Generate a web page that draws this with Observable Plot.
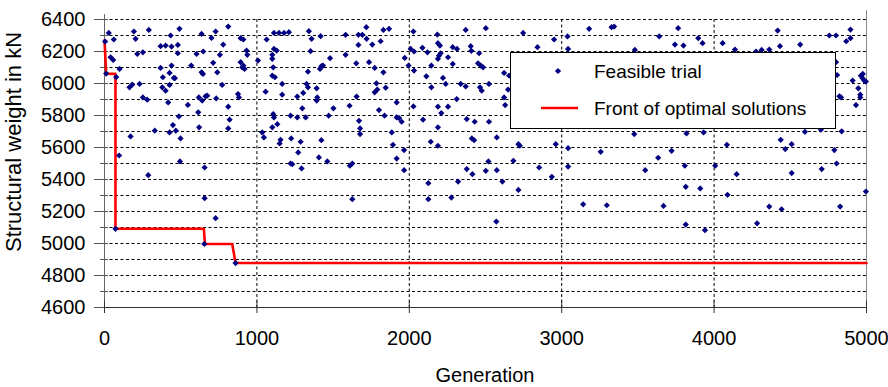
<!DOCTYPE html>
<html><head><meta charset="utf-8">
<script src="https://cdn.jsdelivr.net/npm/d3@7"></script>
<script src="https://cdn.jsdelivr.net/npm/@observablehq/plot@0.6"></script>
<style>
html,body{margin:0;padding:0;background:#fff;}
#chart svg{display:block;}
</style>
</head><body><div id="chart"></div>
<script>
// Feasible trials (generation, structural weight in kN)
const trialGen = [
4,28,61,40,57,99,11,77,193,204,291,215,252,368,401,440,434,492,481,481,368,440,427,383,455,462,230,182,164,379,401,427,252,280,418,488,547,569,604,637,648,637,646,619,641,663,674,615,621,729,702,779,757,713,740,772,733,812,812,821,812,330,171,427,449,468,499,96,495,657,287,657,729,72,655,860,
893,911,932,937,893,911,919,904,876,882,1007,1035,1046,1057,1064,1112,1145,1178,1210,1112,1101,1101,1130,1107,1101,1118,1166,1166,1107,1112,1134,1101,1155,1149,1225,1287,1271,1293,1221,1232,1221,1265,1265,1298,1304,1326,1335,1320,1341,1359,1352,1335,1418,1414,1423,1434,1392,1396,1392,1480,1471,1502,1423,1407,1462,1582,1582,1666,1666,1652,1654,1608,1670,1677,1677,1610,1626,1626,
1718,1692,1720,1757,1812,1830,1867,1736,1773,1830,1784,1773,1790,1845,1801,1838,1917,1917,1933,1950,1885,1893,1917,1966,1966,1970,1995,2009,2031,2027,2031,2086,2119,2112,2145,2145,2027,2090,2184,2188,2201,2195,2188,2206,2254,2221,2239,2285,2313,2285,2188,2210,2254,2188,2141,2188,2311,2337,2370,2370,2403,2407,2377,2429,2458,2451,2469,2484,2464,2475,2502,2523,2523,2410,2425,2125,2125,2276,2320,2377,2414,2502,2519,
2747,2841,2950,3038,3042,3180,3327,3344,2622,2655,2648,2622,2629,2574,2716,2725,2961,3042,3256,2683,2574,2852,3042,2935,2611,2716,3141,3296,2571,
3480,3640,3764,3743,3799,3896,3924,4056,4137,3476,3819,3931,4084,3721,3633,3548,3808,4007,4148,3814,3909,4088,3668,3814,3940,
4417,4312,4362,4275,4432,4565,4756,4800,4895,4895,4867,4800,4807,4909,4946,4959,4959,4963,4974,4985,4996,4976,4931,4822,4833,4596,4701,4837,4437,4467,4509,4789,4804,4706,4509,4996,4362,4443,4827,4282
];
const trialWeight = [
6262,6316,6275,6164,6147,6091,6062,6040,6325,6279,6335,6185,6195,6233,6237,6231,6300,6342,6241,6189,6097,6112,6066,6039,6035,6033,5997,5993,5976,5976,5955,5991,5913,5899,5882,5794,5866,6112,6185,6310,6200,6070,6060,5913,5893,5920,5924,5820,5726,6325,6285,6243,6179,6129,6070,5991,5907,6356,5855,5774,5719,5705,5669,5694,5740,5705,5657,5550,5513,5475,5427,5283,5158,5092,4997,4878,
6283,6275,6206,6179,6133,6112,6091,6101,5934,5913,6143,5694,5663,5949,6275,6316,6316,6316,6321,6216,6179,6154,6206,6101,6049,6039,5997,5930,5809,5788,5746,5726,5648,5625,5657,5636,5569,5469,5500,5496,5799,5788,5918,5845,5941,5997,5976,5788,6327,6279,6202,6074,6296,6091,6108,6112,5970,5913,5893,6158,5799,5845,5646,5538,5513,6304,6179,6304,6241,6126,5918,5861,5767,5719,5684,5486,5500,5277,
6352,6304,6279,6243,6264,6335,6342,6133,6097,6070,6001,5945,5962,5974,5834,5799,5882,5788,5784,5761,5694,5617,5531,5584,5458,6160,6112,6216,6200,6325,6081,6223,6195,6045,6112,5976,5857,5774,6306,6252,6237,6174,6154,6189,6164,6035,5997,6227,6216,6122,5855,5815,5855,5726,5636,5611,5903,5997,5982,6335,6233,6204,5778,5761,6189,6126,6112,6101,5976,5955,6346,5997,5761,5657,5646,5377,5277,5287,5387,5465,5433,5454,5513,
6316,6227,6275,6294,6216,6342,6352,6356,6066,6049,5962,5913,5865,5663,5621,5611,5621,5596,5573,5517,5458,5475,5481,5417,5387,5335,5245,5239,5137,
6210,6294,6346,6243,6237,6283,6252,6252,6212,5684,5688,5694,5617,5579,5536,5458,5486,5486,5433,5354,5344,5304,5235,5118,5083,
6331,6210,6212,6200,6233,6243,6300,6300,6337,6283,6264,6133,6053,6018,5970,5930,5913,6049,6033,6018,6012,6060,5865,5920,5913,5698,5711,5701,5648,5590,5621,5584,5500,5465,5440,5325,5231,5214,5231,5126
];
// Front of optimal solutions (best weight so far)
const frontGen    = [0,    11,   72,   72,   652,  659,  838,  860,  5000];
const frontWeight = [6270, 6062, 6060, 5092, 5092, 4997, 4997, 4878, 4878];

const xTicks = [0, 1000, 2000, 3000, 4000, 5000];
const yTicks = [4600, 4800, 5000, 5200, 5400, 5600, 5800, 6000, 6200, 6400];
const yGrid = [4700, 4800, 4900, 5000, 5100, 5200, 5300, 5400, 5500, 5600, 5700, 5800, 5900, 6000, 6100, 6200, 6300, 6400];
const xGrid = [1000, 2000, 3000, 4000];
const legendLabels = ["Feasible trial", "Front of optimal solutions"];
const xLabel = "Generation";
const yLabel = "Structural weight in kN";

const trials = trialGen.map((g, i) => ({gen: g, weight: trialWeight[i]}));
const front = frontGen.map((g, i) => ({gen: g, weight: frontWeight[i]}));

const FONT = "'Liberation Sans', Arial, sans-serif";
const dash = "3,2.5";

const svg = Plot.plot({
  width: 888, height: 387,
  marginLeft: 104, marginRight: 22, marginTop: 19, marginBottom: 80,
  style: {fontFamily: FONT, fontSize: "20px", color: "#000", background: "#fff", overflow: "visible"},
  x: {domain: [0, 5000]},
  y: {domain: [4600, 6400]},
  marks: [
    Plot.ruleY(yGrid, {stroke: "#000", strokeDasharray: dash, strokeWidth: 1}),
    Plot.ruleX(xGrid, {stroke: "#000", strokeDasharray: dash, strokeWidth: 1}),
    Plot.ruleX([0], {y1: 4600, y2: 6430, stroke: "#666"}),
    Plot.ruleX([5000], {y1: 4600, y2: 6455, stroke: "#888"}),
    Plot.ruleY([4600], {stroke: "#333"}),
    Plot.ruleY(yGrid, {x1: -26, x2: 26, stroke: "#555"}),
    Plot.ruleX(xTicks, {y1: 4600, y2: 4640, stroke: "#333"}),
    Plot.axisY({ticks: yTicks, tickSize: 10, tickPadding: 9, tickFormat: d => String(d), label: null, stroke: "#555", fill: "#000"}),
    Plot.axisX({ticks: xTicks, tickSize: 6, tickPadding: 17, tickFormat: d => String(d), label: null, stroke: "#333", fill: "#000"}),
    Plot.line(front, {x: "gen", y: "weight", stroke: "#ff0000", strokeWidth: 2.6}),
    Plot.dot(trials, {x: "gen", y: "weight", symbol: "diamond2", r: 2.8, fill: "#000080", stroke: "none"})
  ]
});

const s = d3.select(svg);
// axis titles
s.append("text").attr("x", 485).attr("y", 382).attr("text-anchor", "middle")
  .attr("font-family", FONT).attr("font-size", 20).attr("fill", "#000").text(xLabel);
s.append("text").attr("transform", "translate(21,252) rotate(-90)").attr("text-anchor", "start")
  .attr("font-family", FONT).attr("font-size", 22).attr("fill", "#000").text(yLabel);
// legend
const lg = s.append("g");
lg.append("rect").attr("x", 510.5).attr("y", 52.5).attr("width", 325).attr("height", 76)
  .attr("fill", "#fff").attr("stroke", "#000").attr("stroke-width", 1);
lg.append("path").attr("d", d3.symbol(d3.symbolDiamond2, Math.PI * 2.8 * 2.8)())
  .attr("transform", "translate(558,71)").attr("fill", "#000080");
lg.append("line").attr("x1", 541).attr("x2", 578).attr("y1", 108).attr("y2", 108)
  .attr("stroke", "#ff0000").attr("stroke-width", 2.6);
lg.selectAll("text.lbl").data(legendLabels).join("text").attr("class", "lbl")
  .attr("x", 594).attr("y", (d, i) => i === 0 ? 71 : 108).attr("dy", "0.35em")
  .attr("text-anchor", "start")
  .attr("font-family", FONT).attr("font-size", 19).attr("fill", "#000").text(d => d);

document.getElementById("chart").appendChild(svg);
</script>
</body></html>
